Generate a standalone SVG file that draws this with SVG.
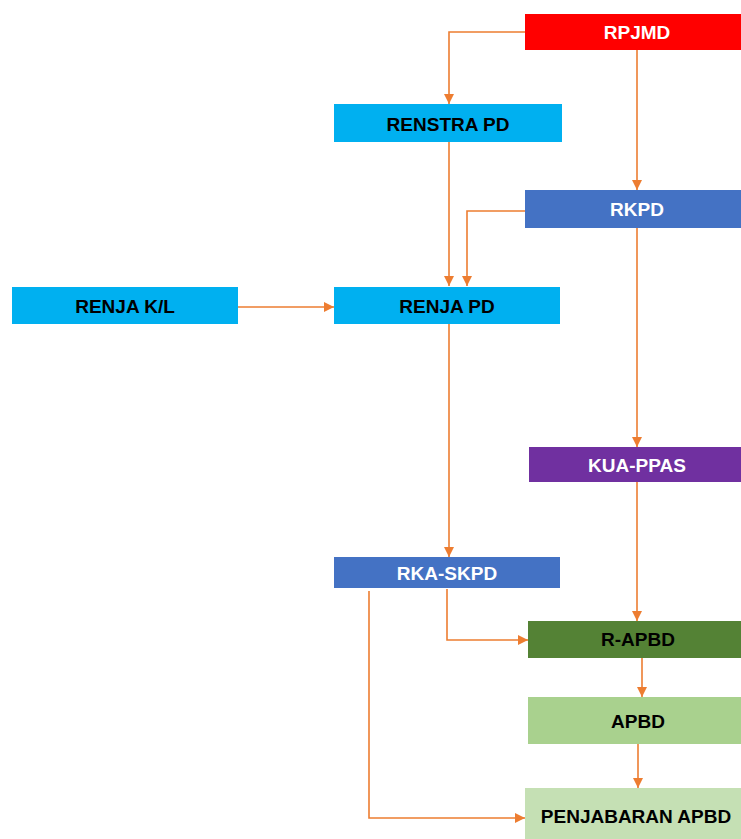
<svg xmlns="http://www.w3.org/2000/svg" width="741" height="839" viewBox="0 0 741 839">
<style>
.lbl{font-family:"Liberation Sans",Arial,sans-serif;font-weight:bold;font-size:19px;text-anchor:middle;dominant-baseline:central}
.w{fill:#FFFFFF}.k{fill:#000000}
.c{fill:none;stroke:#ED7D31;stroke-width:1.6;marker-end:url(#ah)}
</style>
<defs>
<marker id="ah" viewBox="0 0 10 10" refX="10" refY="5" markerWidth="6.5" markerHeight="6.5" orient="auto" markerUnits="strokeWidth">
<path d="M0,0 L10,5 L0,10 Z" fill="#ED7D31"/>
</marker>
</defs>
<rect width="741" height="839" fill="#FFFFFF"/>
<g id="connectors">
<path class="c" d="M525,32 H449 V104"/>
<path class="c" d="M637,50 V190"/>
<path class="c" d="M449,142 V286"/>
<path class="c" d="M525,211 H467 V286"/>
<path class="c" d="M238,307 H334"/>
<path class="c" d="M449,324 V557"/>
<path class="c" d="M637,228 V447"/>
<path class="c" d="M637,482 V621"/>
<path class="c" d="M447,589 V640 H528"/>
<path class="c" d="M642,658 V697"/>
<path class="c" d="M638,744 V788"/>
<path class="c" d="M369,591 V818 H525"/>
</g>
<g id="rpjmd"><rect x="525" y="14" width="216" height="36" fill="#FF0000"/><text class="lbl w" x="637" y="32">RPJMD</text></g>
<g id="renstra"><rect x="334" y="104" width="228" height="38" fill="#00B0F0"/><text class="lbl k" x="448" y="124">RENSTRA PD</text></g>
<g id="rkpd"><rect x="525" y="190" width="216" height="38" fill="#4472C4"/><text class="lbl w" x="637" y="209">RKPD</text></g>
<g id="renjakl"><rect x="12" y="287" width="226" height="37" fill="#00B0F0"/><text class="lbl k" x="125" y="306">RENJA K/L</text></g>
<g id="renjapd"><rect x="334" y="287" width="226" height="37" fill="#00B0F0"/><text class="lbl k" x="447" y="306">RENJA PD</text></g>
<g id="kuappas"><rect x="529" y="447" width="212" height="35" fill="#7030A0"/><text class="lbl w" x="637" y="465">KUA-PPAS</text></g>
<g id="rkaskpd"><rect x="334" y="557" width="226" height="31" fill="#4472C4"/><text class="lbl w" x="447" y="573">RKA-SKPD</text></g>
<g id="rapbd"><rect x="528" y="621" width="213" height="37" fill="#548235"/><text class="lbl k" x="638" y="639">R-APBD</text></g>
<g id="apbd"><rect x="528" y="697" width="213" height="47" fill="#A9D18E"/><text class="lbl k" x="638" y="721">APBD</text></g>
<g id="penjabaran"><rect x="525" y="788" width="216" height="51" fill="#C5E0B4"/><text class="lbl k" x="636" y="816">PENJABARAN APBD</text></g>
</svg>
